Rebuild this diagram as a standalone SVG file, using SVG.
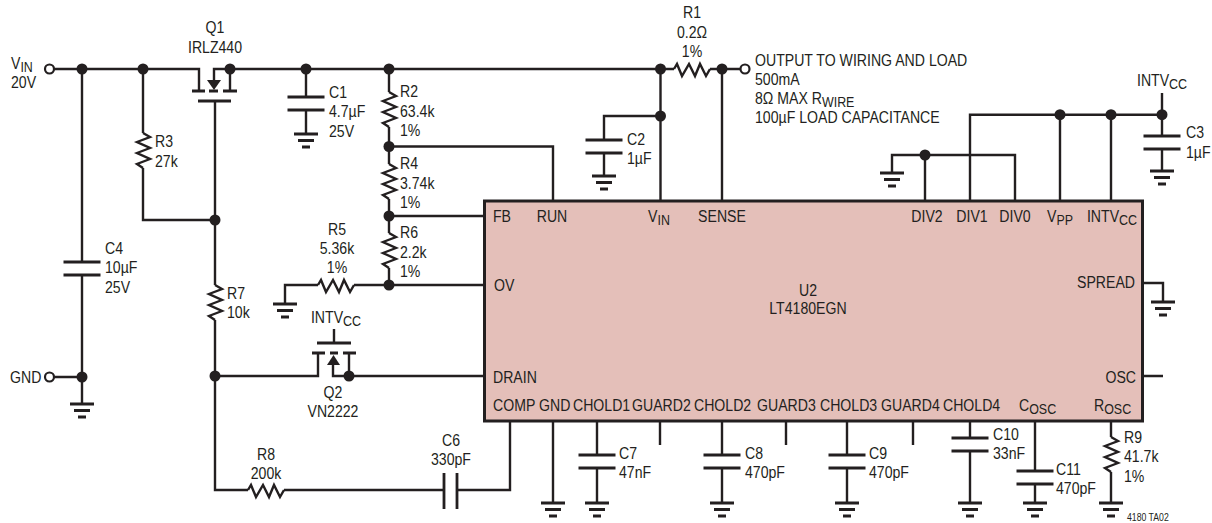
<svg xmlns="http://www.w3.org/2000/svg" width="1212" height="523" viewBox="0 0 1212 523">
<style>
text{font-family:"Liberation Sans",Arial,sans-serif;font-size:17px;fill:#231f20;transform-box:fill-box;transform:scaleX(.83);transform-origin:0 50%}
.m{text-anchor:middle;transform-origin:50% 50%}
.e{text-anchor:end;transform-origin:100% 50%}
.s{font-size:15px}
.tiny{font-size:10.500px}
.w{fill:none;stroke:#231f20;stroke-width:2.400;stroke-linejoin:miter}
.p{fill:none;stroke:#231f20;stroke-width:2.800}
.d{fill:#231f20;stroke:none}
.o{fill:#fff;stroke:#231f20;stroke-width:2.200}
.ic{fill:#e4bfb9;stroke:#231f20;stroke-width:3}
</style>
<defs>
<path id="rv" class="w" d="M0 0l7 4-13 5 13 6-13 5 13 6-13 5 6 4"/>
<path id="rh" class="w" d="M0 0l3-5 5 12 7-12 6 12 5-12 6 12 4-7"/>
<g id="gnd"><path class="p" d="M-12 0h24M-8 6.500h16M-4 13h8"/></g>
<g id="cap"><path class="p" d="M-18.500 0h37M-18.500 13h37"/></g>
</defs>

<g id="connectors">
<path class="w" d="M54 69H199V91M214 80V69H230M230 69H674M710 69H741"/>
<path class="w" d="M230 69V91"/>
<path class="w" d="M82 69V262M82 275V404M54 377H82"/>
<path class="w" d="M143 69V133M143 168V220H215"/>
<path class="w" d="M215 101V285M215 320V490H248M284 490H444M457 490H510V421"/>
<path class="w" d="M306 69V97M306 110V134"/>
<path class="w" d="M389 69V92M389 127V164M389 199V233M389 268V285"/>
<path class="w" d="M389 146.500H553V201M389 216H484M389 285H484"/>
<path class="w" d="M285 304V285H318M354 285H389"/>
<path class="w" d="M215 376H318V353M333 365V376H349V353M349 376H484M334 329V343"/>
<path class="w" d="M660.500 69V201M722 69V201M660.500 116H604V140M604 153V176"/>
<path class="w" d="M892 173V155H1015V201M925 155V201M970 201V114.700H1162M1060 114.700V201M1111 114.700V201"/>
<path class="w" d="M1162 93V136M1162 149V171"/>
<path class="w" d="M1143 283H1163V302M1143 376H1163"/>
<path class="w" d="M553 421V503M597 421V455M597 468V503M660 421V445M722 421V455M722 468V503M786 421V445M847 421V455M847 468V503M913 421V445M970 421V438M970 451V503M1035 421V471M1035 484V503M1111 421V437M1111 472V503"/>
<g id="junctions">
<circle class="d" cx="82" cy="69" r="5.500"/><circle class="d" cx="143" cy="69" r="5.500"/><circle class="d" cx="230" cy="69" r="5.500"/><circle class="d" cx="306" cy="69" r="5.500"/><circle class="d" cx="389" cy="69" r="5.500"/><circle class="d" cx="660.500" cy="69" r="5.500"/><circle class="d" cx="722" cy="69" r="5.500"/>
<circle class="d" cx="215" cy="220" r="5.500"/><circle class="d" cx="389" cy="146.500" r="5.500"/><circle class="d" cx="389" cy="216" r="5.500"/><circle class="d" cx="389" cy="285" r="5.500"/><circle class="d" cx="660.500" cy="116" r="5.500"/>
<circle class="d" cx="925" cy="155" r="5.500"/><circle class="d" cx="1060" cy="114.700" r="5.500"/><circle class="d" cx="1111" cy="114.700" r="5.500"/><circle class="d" cx="1162" cy="114.700" r="5.500"/>
<circle class="d" cx="82" cy="377" r="5.500"/><circle class="d" cx="215" cy="376" r="5.500"/><circle class="d" cx="349" cy="376" r="5.500"/>
</g>
</g>

<g id="VIN"><circle class="o" cx="49.500" cy="69" r="4.500"/><text x="11" y="69">V<tspan class="s" dy="3">IN</tspan></text><text x="11" y="88">20V</text></g>
<g id="GND"><circle class="o" cx="49.500" cy="377" r="4.500"/><text x="10" y="383">GND</text></g>
<g id="OUTPUT"><circle class="o" cx="745" cy="69" r="4.500"/><text x="755" y="66">OUTPUT TO WIRING AND LOAD</text><text x="755" y="85">500mA</text><text x="755" y="104">8Ω MAX R<tspan class="s" dy="3">WIRE</tspan></text><text x="755" y="123">100µF LOAD CAPACITANCE</text></g>

<g id="Q1"><path class="p" d="M192 91h13M209 91h9M223 91h14M198 101h33"/><path class="d" d="M207 80h14l-7 10z"/><text class="m" x="215" y="33">Q1</text><text class="m" x="215" y="53">IRLZ440</text></g>
<g id="Q2"><path class="p" d="M312 353h13M330 353h8M343 353h13M317 343h34"/><path class="d" d="M327 365h13l-6.500-10z"/><text class="m" x="336" y="323">INTV<tspan class="s" dy="3">CC</tspan></text><text class="m" x="333" y="398">Q2</text><text class="m" x="333" y="417">VN2222</text></g>

<g id="R1"><use href="#rh" x="674" y="69"/><text class="m" x="692" y="18">R1</text><text class="m" x="692" y="38">0.2Ω</text><text class="m" x="692" y="57">1%</text></g>
<g id="R2"><use href="#rv" x="389" y="92"/><text x="400" y="97">R2</text><text x="400" y="117">63.4k</text><text x="400" y="136">1%</text></g>
<g id="R3"><use href="#rv" x="143" y="133"/><text x="155" y="147">R3</text><text x="155" y="167">27k</text></g>
<g id="R4"><use href="#rv" x="389" y="164"/><text x="400" y="169">R4</text><text x="400" y="189">3.74k</text><text x="400" y="208">1%</text></g>
<g id="R5"><use href="#rh" x="318" y="285"/><use href="#gnd" x="285" y="304"/><text class="m" x="337" y="235">R5</text><text class="m" x="337" y="254">5.36k</text><text class="m" x="337" y="273">1%</text></g>
<g id="R6"><use href="#rv" x="389" y="233"/><text x="400" y="238">R6</text><text x="400" y="258">2.2k</text><text x="400" y="277">1%</text></g>
<g id="R7"><use href="#rv" x="215" y="285"/><text x="227" y="299">R7</text><text x="227" y="318">10k</text></g>
<g id="R8"><use href="#rh" x="248" y="490"/><text class="m" x="266" y="460">R8</text><text class="m" x="266" y="479">200k</text></g>
<g id="R9"><use href="#rv" x="1111" y="437"/><use href="#gnd" x="1111" y="503"/><text x="1124" y="443">R9</text><text x="1124" y="462">41.7k</text><text x="1124" y="482">1%</text></g>

<g id="C1"><use href="#cap" x="306" y="97"/><use href="#gnd" x="306" y="134"/><text x="329" y="98">C1</text><text x="329" y="117">4.7µF</text><text x="329" y="137">25V</text></g>
<g id="C2"><use href="#cap" x="604" y="140"/><use href="#gnd" x="604" y="176"/><text x="627" y="145">C2</text><text x="627" y="164">1µF</text></g>
<g id="C3"><use href="#cap" x="1162" y="136"/><use href="#gnd" x="1162" y="171"/><text class="m" x="1162" y="86">INTV<tspan class="s" dy="3">CC</tspan></text><text x="1186" y="138">C3</text><text x="1186" y="158">1µF</text></g>
<g id="C4"><use href="#cap" x="82" y="262"/><use href="#gnd" x="82" y="404"/><text x="105" y="254">C4</text><text x="105" y="273">10µF</text><text x="105" y="293">25V</text></g>
<g id="C6"><path class="p" d="M444 473v36M457 473v36"/><text class="m" x="451" y="446">C6</text><text class="m" x="451" y="465">330pF</text></g>
<g id="C7"><use href="#cap" x="597" y="455"/><use href="#gnd" x="597" y="503"/><text x="619" y="459">C7</text><text x="619" y="478">47nF</text></g>
<g id="C8"><use href="#cap" x="722" y="455"/><use href="#gnd" x="722" y="503"/><text x="745" y="459">C8</text><text x="745" y="478">470pF</text></g>
<g id="C9"><use href="#cap" x="847" y="455"/><use href="#gnd" x="847" y="503"/><text x="869" y="459">C9</text><text x="869" y="478">470pF</text></g>
<g id="C10"><use href="#cap" x="970" y="438"/><use href="#gnd" x="970" y="503"/><text x="993" y="440">C10</text><text x="993" y="459">33nF</text></g>
<g id="C11"><use href="#cap" x="1035" y="471"/><use href="#gnd" x="1035" y="503"/><text x="1056" y="475">C11</text><text x="1056" y="494">470pF</text></g>

<g id="GND-U2"><use href="#gnd" x="553" y="503"/></g>
<g id="GND-DIV"><use href="#gnd" x="892" y="173"/></g>
<g id="GND-SPREAD"><use href="#gnd" x="1163" y="302"/></g>

<g id="U2"><rect class="ic" x="484.500" y="201" width="658" height="220"/>
<text class="m" x="808" y="296">U2</text><text class="m" x="808" y="314">LT4180EGN</text>
<text x="493" y="222">FB</text><text class="m" x="552" y="222">RUN</text><text class="m" x="659" y="222">V<tspan class="s" dy="3">IN</tspan></text><text class="m" x="722" y="222">SENSE</text>
<text class="m" x="927" y="222">DIV2</text><text class="m" x="972" y="222">DIV1</text><text class="m" x="1015" y="222">DIV0</text><text class="m" x="1060" y="222">V<tspan class="s" dy="3">PP</tspan></text><text class="m" x="1112" y="222">INTV<tspan class="s" dy="3">CC</tspan></text>
<text class="e" x="1135" y="288">SPREAD</text><text class="e" x="1136" y="383">OSC</text>
<text x="494" y="291">OV</text><text x="493" y="383">DRAIN</text>
<text x="493" y="411">COMP</text><text x="539" y="411">GND</text><text x="573" y="411">CHOLD1</text><text x="632" y="411">GUARD2</text><text x="694" y="411">CHOLD2</text><text x="757" y="411">GUARD3</text><text x="820" y="411">CHOLD3</text><text x="881" y="411">GUARD4</text><text x="943" y="411">CHOLD4</text>
<text x="1019" y="411">C<tspan class="s" dy="3">OSC</tspan></text><text x="1094" y="411">R<tspan class="s" dy="3">OSC</tspan></text></g>
<text class="tiny" x="1127" y="521">4180 TA02</text>
</svg>
